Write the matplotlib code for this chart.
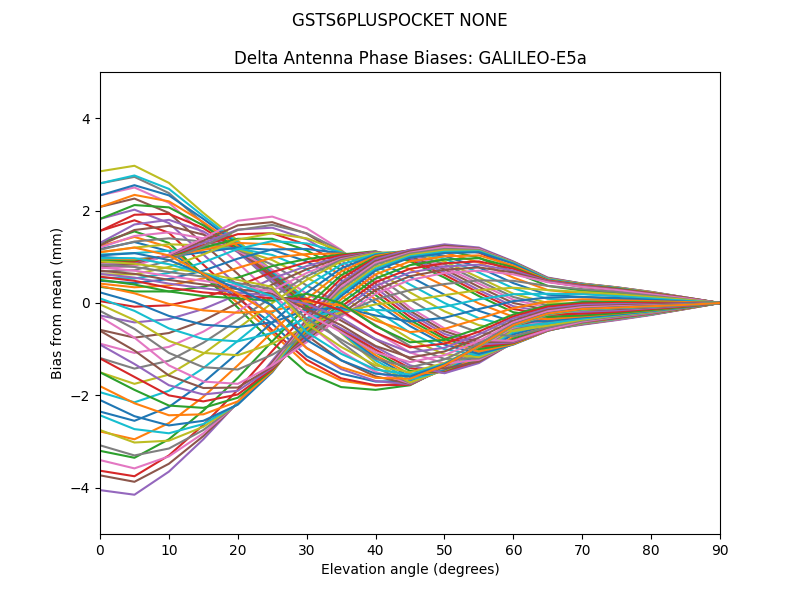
import numpy as np
import matplotlib
matplotlib.use("Agg")
import matplotlib.pyplot as plt

# elevation angles (degrees)
elevation = [0, 5, 10, 15, 20, 25, 30, 35, 40, 45, 50, 55, 60, 65, 70, 75, 80, 85, 90]

# bias from mean (mm) at each elevation, 72 azimuth curves per row
el_00 = [2.85, 2.59, 2.33, 2.08, 1.82, 1.56,
         1.30, 1.25, 1.20, 1.15, 1.10, 1.05,
         1.00, 0.96, 0.92, 0.88, 0.83, 0.79,
         0.75, 0.68, 0.62, 0.55, 0.48, 0.42,
         0.35, 0.04, -0.27, -0.58, -0.88, -1.19,
         -1.50, -1.93, -2.35, -2.78, -3.20, -3.63,
         -4.05, -3.73, -3.40, -3.08, -2.75, -2.43,
         -2.10, -1.80, -1.50, -1.20, -0.90, -0.60,
         -0.30, -0.17, -0.03, 0.10, 0.23, 0.37,
         0.50, 0.57, 0.63, 0.70, 0.77, 0.83,
         0.90, 0.97, 1.03, 1.10, 1.17, 1.23,
         1.30, 1.56, 1.82, 2.08, 2.33, 2.59]
el_05 = [2.97, 2.76, 2.55, 2.34, 2.12, 1.91,
         1.70, 1.58, 1.45, 1.33, 1.20, 1.08,
         0.95, 0.93, 0.90, 0.88, 0.85, 0.83,
         0.80, 0.71, 0.62, 0.53, 0.43, 0.34,
         0.25, -0.08, -0.42, -0.75, -1.08, -1.42,
         -1.75, -2.15, -2.55, -2.95, -3.35, -3.75,
         -4.15, -3.87, -3.58, -3.30, -3.02, -2.73,
         -2.45, -2.17, -1.88, -1.60, -1.32, -1.03,
         -0.75, -0.56, -0.37, -0.17, 0.02, 0.21,
         0.40, 0.48, 0.55, 0.63, 0.70, 0.78,
         0.85, 0.97, 1.08, 1.20, 1.32, 1.43,
         1.55, 1.79, 2.02, 2.26, 2.50, 2.73]
el_10 = [2.60, 2.47, 2.33, 2.20, 2.07, 1.93,
         1.80, 1.67, 1.53, 1.40, 1.27, 1.13,
         1.00, 1.01, 1.02, 1.03, 1.03, 1.04,
         1.05, 0.92, 0.78, 0.65, 0.52, 0.38,
         0.25, -0.05, -0.35, -0.65, -0.95, -1.25,
         -1.55, -1.90, -2.25, -2.60, -2.95, -3.30,
         -3.65, -3.48, -3.32, -3.15, -2.98, -2.82,
         -2.65, -2.43, -2.22, -2.00, -1.78, -1.57,
         -1.35, -1.08, -0.82, -0.55, -0.28, -0.02,
         0.25, 0.33, 0.42, 0.50, 0.58, 0.67,
         0.75, 0.84, 0.93, 1.03, 1.12, 1.21,
         1.30, 1.52, 1.73, 1.95, 2.17, 2.38]
el_15 = [1.95, 1.88, 1.82, 1.75, 1.68, 1.62,
         1.55, 1.48, 1.40, 1.33, 1.25, 1.18,
         1.10, 1.15, 1.20, 1.25, 1.30, 1.35,
         1.40, 1.23, 1.05, 0.88, 0.70, 0.53,
         0.35, 0.11, -0.13, -0.38, -0.62, -0.86,
         -1.10, -1.41, -1.72, -2.03, -2.33, -2.64,
         -2.95, -2.88, -2.82, -2.75, -2.68, -2.62,
         -2.55, -2.41, -2.27, -2.13, -1.98, -1.84,
         -1.70, -1.39, -1.08, -0.78, -0.47, -0.16,
         0.15, 0.23, 0.32, 0.40, 0.48, 0.57,
         0.65, 0.64, 0.63, 0.63, 0.62, 0.61,
         0.60, 0.83, 1.05, 1.28, 1.50, 1.73]
el_20 = [1.35, 1.31, 1.27, 1.23, 1.18, 1.14,
         1.10, 1.12, 1.13, 1.15, 1.17, 1.18,
         1.20, 1.30, 1.39, 1.49, 1.59, 1.68,
         1.78, 1.58, 1.37, 1.17, 0.96, 0.76,
         0.55, 0.37, 0.18, 0.00, -0.18, -0.37,
         -0.55, -0.82, -1.08, -1.35, -1.62, -1.88,
         -2.15, -2.16, -2.17, -2.18, -2.18, -2.19,
         -2.20, -2.13, -2.05, -1.98, -1.90, -1.83,
         -1.75, -1.44, -1.13, -0.83, -0.52, -0.21,
         0.10, 0.17, 0.23, 0.30, 0.37, 0.43,
         0.50, 0.40, 0.30, 0.20, 0.10, 0.00,
         -0.10, 0.14, 0.38, 0.63, 0.87, 1.11]
el_25 = [0.70, 0.67, 0.63, 0.60, 0.57, 0.53,
         0.50, 0.61, 0.72, 0.83, 0.93, 1.04,
         1.15, 1.27, 1.39, 1.51, 1.63, 1.75,
         1.87, 1.69, 1.51, 1.34, 1.16, 0.98,
         0.80, 0.67, 0.53, 0.40, 0.27, 0.13,
         0.00, -0.21, -0.42, -0.63, -0.83, -1.04,
         -1.25, -1.29, -1.33, -1.38, -1.42, -1.46,
         -1.50, -1.48, -1.45, -1.43, -1.40, -1.38,
         -1.35, -1.12, -0.88, -0.65, -0.42, -0.18,
         0.05, 0.10, 0.15, 0.20, 0.25, 0.30,
         0.35, 0.15, -0.05, -0.25, -0.45, -0.65,
         -0.85, -0.59, -0.33, -0.08, 0.18, 0.44]
el_30 = [0.10, 0.06, 0.02, -0.02, -0.07, -0.11,
         -0.15, 0.03, 0.20, 0.38, 0.55, 0.73,
         0.90, 1.02, 1.14, 1.26, 1.38, 1.50,
         1.62, 1.51, 1.40, 1.29, 1.17, 1.06,
         0.95, 0.88, 0.80, 0.73, 0.65, 0.58,
         0.50, 0.36, 0.22, 0.08, -0.07, -0.21,
         -0.35, -0.38, -0.42, -0.45, -0.48, -0.52,
         -0.55, -0.60, -0.65, -0.70, -0.75, -0.80,
         -0.85, -0.68, -0.50, -0.33, -0.15, 0.03,
         0.20, 0.09, -0.02, -0.13, -0.23, -0.34,
         -0.45, -0.63, -0.80, -0.98, -1.15, -1.33,
         -1.50, -1.23, -0.97, -0.70, -0.43, -0.17]
el_35 = [-0.65, -0.63, -0.62, -0.60, -0.58, -0.57,
         -0.55, -0.38, -0.20, -0.03, 0.15, 0.33,
         0.50, 0.61, 0.72, 0.83, 0.93, 1.04,
         1.15, 1.13, 1.12, 1.10, 1.08, 1.07,
         1.05, 1.03, 1.00, 0.98, 0.95, 0.93,
         0.90, 0.83, 0.75, 0.68, 0.60, 0.53,
         0.45, 0.40, 0.35, 0.30, 0.25, 0.20,
         0.15, 0.08, 0.00, -0.08, -0.15, -0.23,
         -0.30, -0.25, -0.20, -0.15, -0.10, -0.05,
         0.00, -0.16, -0.32, -0.48, -0.63, -0.79,
         -0.95, -1.10, -1.24, -1.39, -1.53, -1.68,
         -1.82, -1.63, -1.43, -1.24, -1.04, -0.85]
el_40 = [-1.30, -1.24, -1.18, -1.13, -1.07, -1.01,
         -0.95, -0.79, -0.63, -0.48, -0.32, -0.16,
         0.00, 0.08, 0.17, 0.25, 0.33, 0.42,
         0.50, 0.60, 0.71, 0.81, 0.91, 1.02,
         1.12, 1.11, 1.11, 1.10, 1.09, 1.09,
         1.08, 1.06, 1.04, 1.02, 0.99, 0.97,
         0.95, 0.91, 0.87, 0.83, 0.78, 0.74,
         0.70, 0.62, 0.53, 0.45, 0.37, 0.28,
         0.20, 0.08, -0.03, -0.15, -0.27, -0.38,
         -0.50, -0.64, -0.78, -0.93, -1.07, -1.21,
         -1.35, -1.44, -1.53, -1.62, -1.70, -1.79,
         -1.88, -1.78, -1.69, -1.59, -1.49, -1.40]
el_45 = [-1.72, -1.66, -1.60, -1.54, -1.47, -1.41,
         -1.35, -1.21, -1.07, -0.93, -0.78, -0.64,
         -0.50, -0.43, -0.37, -0.30, -0.23, -0.17,
         -0.10, 0.07, 0.23, 0.40, 0.57, 0.73,
         0.90, 0.94, 0.97, 1.01, 1.05, 1.08,
         1.12, 1.13, 1.13, 1.14, 1.14, 1.15,
         1.15, 1.12, 1.09, 1.07, 1.04, 1.01,
         0.98, 0.90, 0.82, 0.74, 0.66, 0.58,
         0.50, 0.28, 0.05, -0.18, -0.40, -0.63,
         -0.85, -0.96, -1.07, -1.18, -1.28, -1.39,
         -1.50, -1.55, -1.59, -1.64, -1.69, -1.73,
         -1.78, -1.77, -1.76, -1.75, -1.74, -1.73]
el_50 = [-1.45, -1.46, -1.47, -1.49, -1.50, -1.51,
         -1.52, -1.42, -1.31, -1.21, -1.11, -1.00,
         -0.90, -0.84, -0.78, -0.73, -0.67, -0.61,
         -0.55, -0.37, -0.18, 0.00, 0.18, 0.37,
         0.55, 0.61, 0.67, 0.73, 0.78, 0.84,
         0.90, 0.96, 1.02, 1.09, 1.15, 1.21,
         1.27, 1.24, 1.21, 1.17, 1.14, 1.11,
         1.08, 1.01, 0.94, 0.86, 0.79, 0.72,
         0.65, 0.41, 0.17, -0.08, -0.32, -0.56,
         -0.80, -0.88, -0.97, -1.05, -1.13, -1.22,
         -1.30, -1.32, -1.33, -1.35, -1.37, -1.38,
         -1.40, -1.41, -1.42, -1.43, -1.43, -1.44]
el_55 = [-1.05, -1.09, -1.13, -1.18, -1.22, -1.26,
         -1.30, -1.27, -1.23, -1.20, -1.17, -1.13,
         -1.10, -1.05, -1.00, -0.95, -0.90, -0.85,
         -0.80, -0.64, -0.48, -0.33, -0.17, -0.01,
         0.15, 0.22, 0.28, 0.35, 0.42, 0.48,
         0.55, 0.66, 0.77, 0.88, 0.98, 1.09,
         1.20, 1.18, 1.17, 1.15, 1.13, 1.12,
         1.10, 1.03, 0.97, 0.90, 0.83, 0.77,
         0.70, 0.49, 0.28, 0.08, -0.13, -0.34,
         -0.55, -0.62, -0.68, -0.75, -0.82, -0.88,
         -0.95, -0.94, -0.93, -0.93, -0.92, -0.91,
         -0.90, -0.93, -0.95, -0.98, -1.00, -1.03]
el_60 = [-0.60, -0.64, -0.68, -0.73, -0.77, -0.81,
         -0.85, -0.86, -0.87, -0.88, -0.88, -0.89,
         -0.90, -0.89, -0.87, -0.86, -0.85, -0.83,
         -0.82, -0.72, -0.61, -0.51, -0.41, -0.30,
         -0.20, -0.13, -0.07, 0.00, 0.07, 0.13,
         0.20, 0.32, 0.43, 0.55, 0.67, 0.78,
         0.90, 0.89, 0.88, 0.88, 0.87, 0.86,
         0.85, 0.81, 0.77, 0.74, 0.70, 0.66,
         0.62, 0.48, 0.33, 0.19, 0.04, -0.11,
         -0.25, -0.29, -0.33, -0.38, -0.42, -0.46,
         -0.50, -0.49, -0.48, -0.48, -0.47, -0.46,
         -0.45, -0.48, -0.50, -0.53, -0.55, -0.58]
el_65 = [-0.45, -0.47, -0.49, -0.52, -0.54, -0.56,
         -0.58, -0.58, -0.59, -0.59, -0.59, -0.60,
         -0.60, -0.60, -0.59, -0.59, -0.59, -0.58,
         -0.58, -0.53, -0.49, -0.44, -0.39, -0.35,
         -0.30, -0.25, -0.20, -0.15, -0.10, -0.05,
         0.00, 0.09, 0.18, 0.28, 0.37, 0.46,
         0.55, 0.54, 0.53, 0.53, 0.52, 0.51,
         0.50, 0.49, 0.48, 0.48, 0.47, 0.46,
         0.45, 0.37, 0.28, 0.20, 0.12, 0.03,
         -0.05, -0.08, -0.12, -0.15, -0.18, -0.22,
         -0.25, -0.24, -0.23, -0.23, -0.22, -0.21,
         -0.20, -0.24, -0.28, -0.33, -0.37, -0.41]
el_70 = [-0.33, -0.35, -0.38, -0.40, -0.42, -0.45,
         -0.47, -0.46, -0.45, -0.45, -0.44, -0.43,
         -0.42, -0.42, -0.41, -0.41, -0.41, -0.40,
         -0.40, -0.38, -0.36, -0.34, -0.31, -0.29,
         -0.27, -0.23, -0.19, -0.15, -0.10, -0.06,
         -0.02, 0.05, 0.13, 0.20, 0.27, 0.35,
         0.42, 0.42, 0.41, 0.41, 0.41, 0.40,
         0.40, 0.39, 0.38, 0.38, 0.37, 0.36,
         0.35, 0.30, 0.24, 0.19, 0.13, 0.08,
         0.02, -0.01, -0.04, -0.07, -0.09, -0.12,
         -0.15, -0.14, -0.13, -0.13, -0.12, -0.11,
         -0.10, -0.14, -0.18, -0.22, -0.25, -0.29]
el_75 = [-0.25, -0.27, -0.29, -0.31, -0.33, -0.35,
         -0.37, -0.36, -0.36, -0.35, -0.34, -0.34,
         -0.33, -0.33, -0.32, -0.32, -0.31, -0.31,
         -0.30, -0.29, -0.27, -0.26, -0.25, -0.23,
         -0.22, -0.19, -0.16, -0.13, -0.09, -0.06,
         -0.03, 0.03, 0.09, 0.16, 0.22, 0.28,
         0.34, 0.34, 0.33, 0.33, 0.33, 0.32,
         0.32, 0.31, 0.31, 0.30, 0.29, 0.29,
         0.28, 0.24, 0.19, 0.15, 0.11, 0.06,
         0.02, 0.00, -0.02, -0.05, -0.07, -0.09,
         -0.11, -0.11, -0.10, -0.10, -0.09, -0.09,
         -0.08, -0.11, -0.14, -0.17, -0.19, -0.22]
el_80 = [-0.17, -0.19, -0.20, -0.22, -0.23, -0.25,
         -0.26, -0.25, -0.25, -0.25, -0.24, -0.24,
         -0.23, -0.23, -0.22, -0.22, -0.22, -0.21,
         -0.21, -0.20, -0.19, -0.18, -0.17, -0.16,
         -0.15, -0.13, -0.11, -0.09, -0.06, -0.04,
         -0.02, 0.02, 0.07, 0.11, 0.15, 0.20,
         0.24, 0.24, 0.23, 0.23, 0.23, 0.22,
         0.22, 0.22, 0.21, 0.21, 0.20, 0.20,
         0.19, 0.16, 0.13, 0.10, 0.07, 0.04,
         0.01, 0.00, -0.02, -0.03, -0.05, -0.06,
         -0.08, -0.08, -0.07, -0.07, -0.07, -0.06,
         -0.06, -0.08, -0.10, -0.12, -0.13, -0.15]
el_85 = [-0.08, -0.09, -0.10, -0.11, -0.11, -0.12,
         -0.13, -0.13, -0.12, -0.12, -0.12, -0.11,
         -0.11, -0.11, -0.11, -0.11, -0.10, -0.10,
         -0.10, -0.10, -0.09, -0.09, -0.09, -0.08,
         -0.08, -0.07, -0.06, -0.05, -0.03, -0.02,
         -0.01, 0.01, 0.03, 0.06, 0.08, 0.10,
         0.12, 0.12, 0.12, 0.12, 0.11, 0.11,
         0.11, 0.11, 0.11, 0.11, 0.10, 0.10,
         0.10, 0.08, 0.07, 0.05, 0.03, 0.02,
         0.00, -0.01, -0.01, -0.02, -0.03, -0.03,
         -0.04, -0.04, -0.04, -0.04, -0.03, -0.03,
         -0.03, -0.04, -0.05, -0.06, -0.07, -0.07]
el_90 = [0.0, 0.0, 0.0, 0.0, 0.0, 0.0,
         0.0, 0.0, 0.0, 0.0, 0.0, 0.0,
         0.0, 0.0, 0.0, 0.0, 0.0, 0.0,
         0.0, 0.0, 0.0, 0.0, 0.0, 0.0,
         0.0, 0.0, 0.0, 0.0, 0.0, 0.0,
         0.0, 0.0, 0.0, 0.0, 0.0, 0.0,
         0.0, 0.0, 0.0, 0.0, 0.0, 0.0,
         0.0, 0.0, 0.0, 0.0, 0.0, 0.0,
         0.0, 0.0, 0.0, 0.0, 0.0, 0.0,
         0.0, 0.0, 0.0, 0.0, 0.0, 0.0,
         0.0, 0.0, 0.0, 0.0, 0.0, 0.0,
         0.0, 0.0, 0.0, 0.0, 0.0, 0.0]

bias = np.array([el_00, el_05, el_10, el_15, el_20, el_25, el_30, el_35, el_40,
                 el_45, el_50, el_55, el_60, el_65, el_70, el_75, el_80, el_85,
                 el_90])
# start the colour cycle so the top curve comes out olive, as in the original
bias = np.roll(bias, 8, axis=1)

fig, ax = plt.subplots(figsize=(8, 6), dpi=100)
fig.suptitle('GSTS6PLUSPOCKET NONE')

# each column is one azimuth curve
ax.plot(elevation, bias)

ax.set_title('Delta Antenna Phase Biases: GALILEO-E5a')
ax.set_xlabel('Elevation angle (degrees)')
ax.set_ylabel('Bias from mean (mm)')
ax.set_xlim(0, 90)
ax.set_ylim(-5, 5)

plt.savefig('out.png')
